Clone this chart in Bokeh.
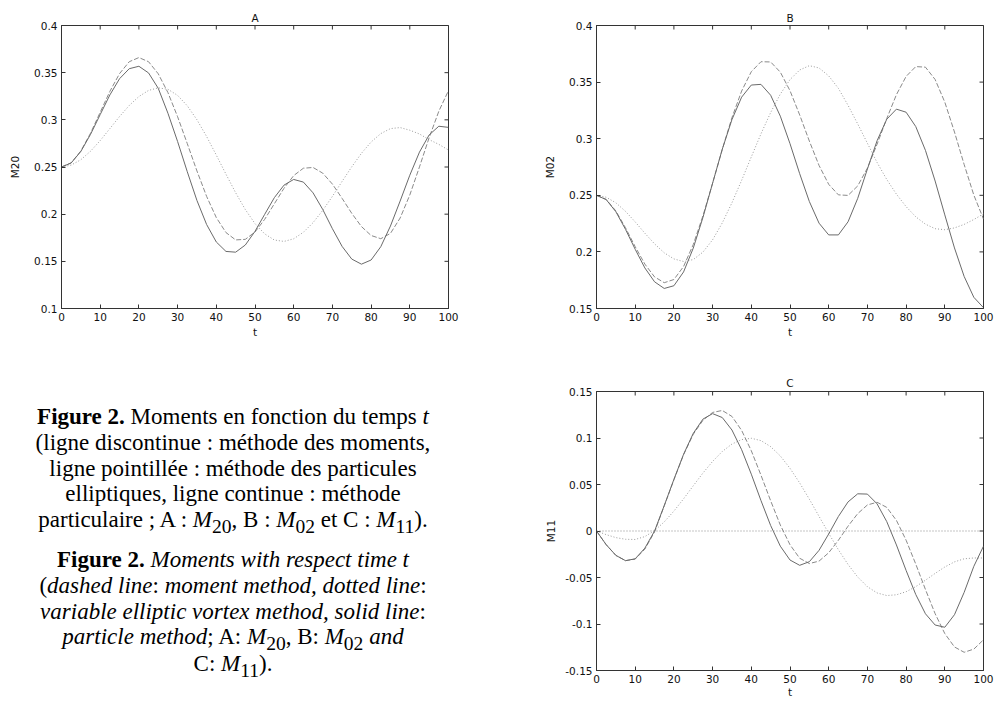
import math
from bokeh.plotting import figure
from bokeh.layouts import column, row
from bokeh.models import (Range1d, FixedTicker, NumeralTickFormatter, Span, Div)
from bokeh.embed import file_html
from bokeh.resources import INLINE

# ---------------- data ----------------
T = [0, 2.5, 5, 7.5, 10, 12.5, 15, 17.5, 20, 22.5, 25, 27.5, 30, 32.5, 35, 37.5,
     40, 42.5, 45, 47.5, 50, 52.5, 55, 57.5, 60, 62.5, 65, 67.5, 70, 72.5, 75,
     77.5, 80, 82.5, 85, 87.5, 90, 92.5, 95, 97.5, 100]

X_TICKS = [0, 10, 20, 30, 40, 50, 60, 70, 80, 90, 100]

# Panel A : M20
A_YTICKS = [0.1, 0.15, 0.2, 0.25, 0.3, 0.35, 0.4]
A_particle = [0.250, 0.2543, 0.2665, 0.2846, 0.3056, 0.3264, 0.3436, 0.3542, 0.3568, 0.3497,
              0.3334, 0.3070, 0.2770, 0.2450, 0.2145, 0.1890, 0.1705, 0.1605, 0.1597, 0.1673,
              0.1818, 0.1998, 0.2175, 0.2308, 0.2368, 0.2340, 0.2226, 0.2050, 0.1846, 0.1659,
              0.1524, 0.1470, 0.1514, 0.1655, 0.1874, 0.2139, 0.2413, 0.2658, 0.2840, 0.2932,
              0.2920]
A_moment = [0.250, 0.2544, 0.2670, 0.2858, 0.3080, 0.3302, 0.3490, 0.3616, 0.3660, 0.3616,
            0.3488, 0.3289, 0.3033, 0.2748, 0.2458, 0.2188, 0.1964, 0.1805, 0.1727, 0.1733,
            0.1811, 0.1945, 0.2110, 0.2275, 0.2409, 0.2487, 0.2495, 0.2435, 0.2319, 0.2168,
            0.2009, 0.1869, 0.1774, 0.1740, 0.1796, 0.1959, 0.2203, 0.2501, 0.2811, 0.3091,
            0.3310]
A_elliptic = [0.250, 0.2520, 0.2577, 0.2667, 0.2780, 0.2907, 0.3035, 0.3152, 0.3247, 0.3312,
              0.3339, 0.3324, 0.3259, 0.3149, 0.3001, 0.2823, 0.2626, 0.2424, 0.2227, 0.2049,
              0.1900, 0.1791, 0.1726, 0.1711, 0.1739, 0.1808, 0.1910, 0.2040, 0.2189, 0.2347,
              0.2502, 0.2645, 0.2765, 0.2854, 0.2907, 0.2918, 0.2890, 0.2850, 0.2790, 0.2740,
              0.2680]

# Panel B : M02
B_YTICKS = [0.15, 0.2, 0.25, 0.3, 0.35, 0.4]
B_particle = [0.250, 0.2462, 0.2355, 0.2199, 0.2023, 0.1858, 0.1736, 0.1677, 0.1701, 0.1823,
              0.2033, 0.2304, 0.2607, 0.2907, 0.3169, 0.3367, 0.3474, 0.3480, 0.3384, 0.3199,
              0.2956, 0.2691, 0.2445, 0.2254, 0.2150, 0.2150, 0.2266, 0.2473, 0.2732, 0.2982,
              0.3172, 0.3261, 0.3234, 0.3107, 0.2897, 0.2626, 0.2327, 0.2035, 0.1783, 0.1599,
              0.1507]
B_moment = [0.250, 0.2464, 0.2362, 0.2213, 0.2046, 0.1892, 0.1779, 0.1728, 0.1756, 0.1871,
            0.2065, 0.2318, 0.2607, 0.2905, 0.3186, 0.3421, 0.3592, 0.3680, 0.3678, 0.3588,
            0.3424, 0.3210, 0.2979, 0.2764, 0.2597, 0.2504, 0.2499, 0.2583, 0.2740, 0.2951,
            0.3178, 0.3389, 0.3550, 0.3637, 0.3632, 0.3523, 0.3323, 0.3059, 0.2772, 0.2502,
            0.2290]
B_elliptic = [0.250, 0.2483, 0.2434, 0.2358, 0.2265, 0.2165, 0.2071, 0.1992, 0.1938, 0.1915,
              0.1932, 0.1998, 0.2107, 0.2256, 0.2434, 0.2632, 0.2839, 0.3043, 0.3231, 0.3394,
              0.3522, 0.3607, 0.3645, 0.3625, 0.3555, 0.3445, 0.3295, 0.3130, 0.2960, 0.2790,
              0.2640, 0.2510, 0.2400, 0.2310, 0.2245, 0.2205, 0.2196, 0.2212, 0.2243, 0.2286,
              0.2336]

# Panel C : M11
C_YTICKS = [-0.15, -0.1, -0.05, 0, 0.05, 0.1, 0.15]
C_particle = [0.0, -0.0147, -0.0262, -0.0319, -0.0299, -0.0184, 0.0000, 0.0273, 0.0555, 0.0825,
              0.1050, 0.1203, 0.1262, 0.1220, 0.1086, 0.0874, 0.0611, 0.0327, 0.0059, -0.0163,
              -0.0312, -0.0369, -0.0330, -0.0208, -0.0032, 0.0156, 0.0313, 0.0400, 0.0397, 0.0292,
              0.0101, -0.0150, -0.0424, -0.0683, -0.0890, -0.1011, -0.1035, -0.0900, -0.0660,
              -0.0380, -0.0163]
C_moment = [0.0, -0.0147, -0.0262, -0.0319, -0.0302, -0.0195, -0.0010, 0.0270, 0.0550, 0.0820,
            0.1040, 0.1190, 0.1275, 0.1296, 0.1232, 0.1082, 0.0863, 0.0600, 0.0325, 0.0064,
            -0.0148, -0.0293, -0.0350, -0.0324, -0.0234, -0.0100, 0.0052, 0.0187, 0.0280, 0.0309,
            0.0254, 0.0114, -0.0099, -0.0356, -0.0629, -0.0889, -0.1103, -0.1247, -0.1304,
            -0.1270, -0.1170]
C_elliptic = [0.0, -0.0039, -0.0071, -0.0089, -0.0091, -0.0060, 0.0004, 0.0098, 0.0214, 0.0346,
              0.0486, 0.0623, 0.0748, 0.0855, 0.0935, 0.0983, 0.0997, 0.0972, 0.0907, 0.0807,
              0.0674, 0.0517, 0.0342, 0.0158, -0.0025, -0.0201, -0.0360, -0.0495, -0.0599, -0.0666,
              -0.0694, -0.0686, -0.0653, -0.0598, -0.0529, -0.0456, -0.0387, -0.0332, -0.0299,
              -0.0290, -0.0290]

# ---------------- styling ----------------
FONT = "DejaVu Sans"
FS = "10.5px"
AX = "#333333"
STYLE = {
    "particle": dict(line_color="#6a6a6a", line_width=1),
    "moment": dict(line_color="#8a8a8a", line_width=1, line_dash="5 2"),
    "elliptic": dict(line_color="#9a9a9a", line_width=1, line_dash="1 2"),
}


def style_axis(ax, ticks, is_y, label_standoff):
    ax.ticker = FixedTicker(ticks=ticks)
    ax.major_tick_in = 4
    ax.major_tick_out = 0
    ax.minor_tick_line_color = None
    ax.axis_line_color = AX
    ax.major_tick_line_color = AX
    ax.major_label_text_font = FONT
    ax.major_label_text_font_size = FS
    ax.major_label_text_color = "#111111"
    ax.major_label_standoff = 4
    ax.axis_label_text_font = FONT
    ax.axis_label_text_font_size = FS
    ax.axis_label_text_font_style = "normal"
    ax.axis_label_text_color = "#111111"
    ax.axis_label_standoff = label_standoff
    if is_y:
        ax.formatter = NumeralTickFormatter(format="0.[00]")


def panel(title, ylabel, yticks, particle, moment, elliptic, width, height,
          bl, br, bt, bb, ylab_standoff, xlab_standoff, title_standoff, zero=False):
    p = figure(width=width, height=height, x_range=Range1d(0, 100),
               y_range=Range1d(yticks[0], yticks[-1]), output_backend="svg",
               toolbar_location=None, min_border_left=bl, min_border_right=br,
               min_border_top=bt, min_border_bottom=bb,
               x_axis_label="t", y_axis_label=ylabel, title=title)
    p.title.align = "center"
    p.title.text_font = FONT
    p.title.text_font_size = FS
    p.title.text_font_style = "normal"
    p.title.text_color = "#111111"
    p.title.standoff = title_standoff
    p.xgrid.visible = False
    p.ygrid.visible = False
    p.outline_line_color = AX
    p.background_fill_color = "white"
    p.border_fill_color = "white"
    style_axis(p.xaxis[0], X_TICKS, False, xlab_standoff)
    style_axis(p.yaxis[0], yticks, True, ylab_standoff)

    # mirrored inward ticks on the top and right edges (clipped to the frame)
    p.scatter(X_TICKS, [yticks[-1]] * len(X_TICKS), marker="dash", angle=math.pi / 2,
              size=8, line_color=AX, line_width=1)
    p.scatter([100] * len(yticks), yticks, marker="dash", size=8, line_color=AX, line_width=1)

    if zero:
        p.add_layout(Span(location=0, dimension="width", line_color="#8a8a8a",
                          line_width=1, line_dash="1 2"))
    p.line(T, elliptic, **STYLE["elliptic"])
    p.line(T, moment, **STYLE["moment"])
    p.line(T, particle, **STYLE["particle"])
    return p


pA = panel("A", "M20", A_YTICKS, A_particle, A_moment, A_elliptic,
           width=530, height=348, bl=61, br=82, bt=25, bb=40,
           ylab_standoff=10, xlab_standoff=2, title_standoff=4)
pB = panel("B", "M02", B_YTICKS, B_particle, B_moment, B_elliptic,
           width=464, height=348, bl=66, br=11, bt=25, bb=40,
           ylab_standoff=10, xlab_standoff=2, title_standoff=4)
pC = panel("C", "M11", C_YTICKS, C_particle, C_moment, C_elliptic,
           width=528, height=352, bl=130, br=11, bt=43, bb=29,
           ylab_standoff=5, xlab_standoff=0, title_standoff=5, zero=True)

SUB = "<span style=\"font-size:0.85em;position:relative;top:0.3em;\">{}</span>"
M = "<i>M</i>"
caption = (
    "<div style=\"width:466px;font-family:'Liberation Serif';font-size:23px;"
    "line-height:25.8px;text-align:center;color:#000;padding-top:56px;\">"
    "<div><b>Figure 2.</b> Moments en fonction du temps <i>t</i><br>"
    "(ligne discontinue : méthode des moments,<br>"
    "ligne pointillée : méthode des particules<br>"
    "elliptiques, ligne continue : méthode<br>"
    "particulaire ; A : " + M + SUB.format("20") + ", B : " + M + SUB.format("02")
    + " et C : " + M + SUB.format("11") + ").</div>"
    "<div style=\"margin-top:13px;\"><b>Figure 2.</b> <i>Moments with respect time t</i><br>"
    "(<i>dashed line</i>: <i>moment method, dotted line</i>:<br>"
    "<i>variable elliptic vortex method, solid line</i>:<br>"
    "<i>particle method</i>; A: " + M + SUB.format("20") + ", B: " + M + SUB.format("02")
    + " <i>and</i><br>C: " + M + SUB.format("11") + ").</div></div>"
)
div = Div(text=caption, width=466, height=352, margin=0)

layout = column(row(pA, pB), row(div, pC))

with open("out.html", "w") as f:
    f.write(file_html(layout, INLINE))
